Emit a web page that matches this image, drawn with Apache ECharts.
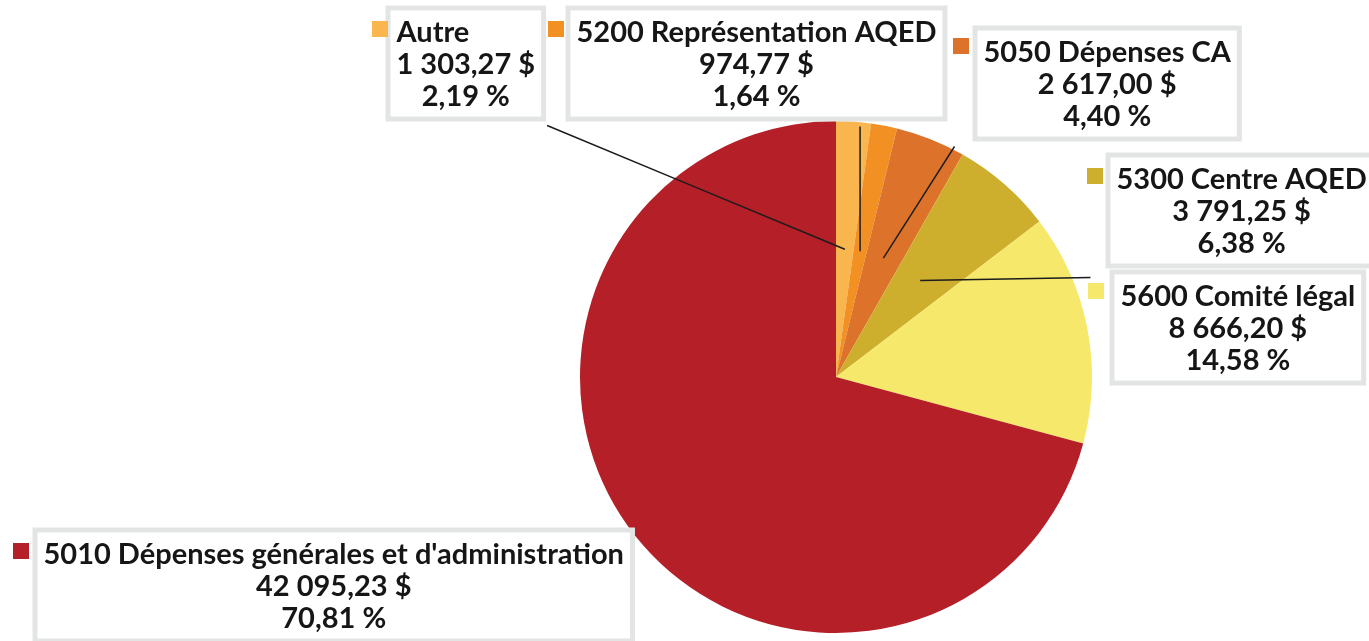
<!DOCTYPE html>
<html>
<head>
<meta charset="utf-8">
<script src="https://cdn.jsdelivr.net/npm/echarts@6/dist/echarts.min.js"></script>
<style>
  html, body { margin: 0; padding: 0; background: #fff; }
  #chart { width: 1369px; height: 641px; }
</style>
</head>
<body>
<div id="chart"></div>
<script>
const categories = [
  'Autre',
  '5200 Représentation AQED',
  '5050 Dépenses CA',
  '5300 Centre AQED',
  '5600 Comité légal',
  "5010 Dépenses générales et d'administration"
]
const amounts = [1303.27, 974.77, 2617.00, 3791.25, 8666.20, 42095.23]
const colors = ['#f9b64e', '#f39024', '#dd732b', '#ceaf2d', '#f5e86a', '#b41f28']

// top-left corner of each grey label frame, and of its colour square
const boxPos = [[388, 8], [568, 8], [975, 28], [1108, 155], [1112, 272], [35, 530]]
const markerPos = [[372, 21], [548, 21], [953, 38], [1087, 168], [1088, 283], [13, 543]]

const center = [836, 377]
const radius = 256
const total = amounts.reduce((a, b) => a + b, 0)
const font = 'Lato'

// 1303.27 -> "1 303,27"
function fr (n) {
  const parts = n.toFixed(2).split('.')
  return parts[0].replace(/\B(?=(\d{3})+(?!\d))/g, ' ') + ',' + parts[1]
}

// point at half radius, in the middle of slice i (leader lines start there)
function innerPoint (i) {
  let before = 0
  for (let k = 0; k < i; k++) before += amounts[k]
  const a = (before + amounts[i] / 2) / total * 2 * Math.PI
  return [center[0] + radius / 2 * Math.sin(a), center[1] - radius / 2 * Math.cos(a)]
}

const chart = echarts.init(document.getElementById('chart'))

const textBase = { fontFamily: font, fontWeight: 'bold', fontSize: 29, lineHeight: 32, color: '#161616' }

const pieBase = {
  type: 'pie',
  center: center,
  radius: radius,
  startAngle: 90,
  clockwise: true,
  avoidLabelOverlap: false,
  silent: true
}

chart.setOption({
  animation: false,
  // one legend per category, used only for the little colour squares
  legend: categories.map((name, i) => ({
    data: [name],
    left: markerPos[i][0],
    top: markerPos[i][1],
    padding: 0,
    icon: 'rect',
    itemWidth: 16,
    itemHeight: 16,
    selectedMode: false,
    formatter: () => '',
    textStyle: { fontSize: 1 }
  })),
  series: [
    // the coloured pie
    Object.assign({}, pieBase, {
      z: 2,
      data: categories.map((name, i) => ({ name: name, value: amounts[i], itemStyle: { color: colors[i] } })),
      label: { show: false },
      labelLine: { show: false }
    }),
    // same pie, transparent, on top: carries the boxes and the leader lines
    Object.assign({}, pieBase, {
      z: 3,
      data: categories.map((name, i) => ({
        name: name,
        value: amounts[i],
        labelLine: { show: i < 4 }
      })),
      itemStyle: { color: 'rgba(0,0,0,0)' },
      label: {
        show: true,
        position: 'outside',
        formatter: p => {
          const t = p.dataIndex === 0 ? 'tl' : 't'
          return '{' + t + '|' + p.name + '}\n{v|' + fr(p.value) + ' $}\n{v|' + p.percent.toFixed(2).replace('.', ',') + ' %}'
        },
        backgroundColor: '#fff',
        borderColor: '#e3e5e5',
        borderWidth: 5,
        padding: [6, 6, 4, 6],
        fontFamily: font,
        fontWeight: 'bold',
        color: '#161616',
        rich: {
          t: Object.assign({ align: 'center' }, textBase),
          tl: Object.assign({ align: 'left' }, textBase),
          v: Object.assign({ align: 'center' }, textBase)
        }
      },
      labelLine: {
        show: true,
        lineStyle: { color: '#1c1c1c', width: 1.5 }
      },
      labelLayout: function (p) {
        const i = p.dataIndex
        const x = boxPos[i][0] + 2.5
        const y = boxPos[i][1] + 2.5
        const w = p.labelRect.width
        const h = p.labelRect.height
        const out = { x: x, y: y, align: 'left', verticalAlign: 'top' }
        const s = innerPoint(i)
        let e = null
        if (i === 0) e = [x + w - 4, y + h - 1]
        if (i === 1) e = [s[0], y + h]
        if (i === 2) e = [x - 23, y + h]
        if (i === 3) e = [x - 20, y + h + 4]
        if (e) out.labelLinePoints = [s, [(s[0] + e[0]) / 2, (s[1] + e[1]) / 2], e]
        return out
      }
    })
  ]
})
</script>
</body>
</html>
